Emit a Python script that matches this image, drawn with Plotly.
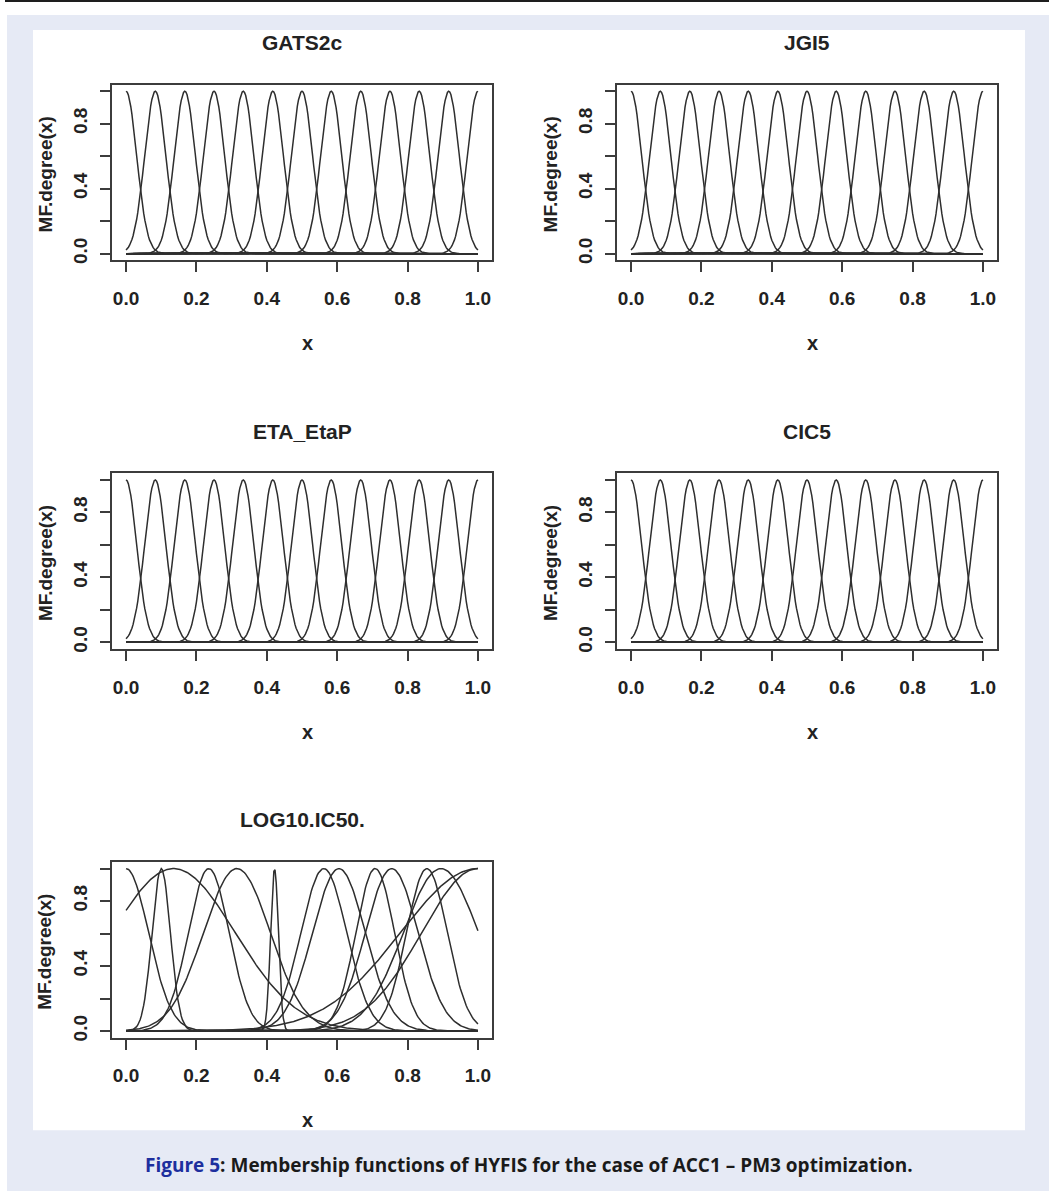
import numpy as np
import plotly.graph_objects as go

W, H = 1049, 1195

# ---------------- data ----------------
panel_titles = ["GATS2c", "JGI5", "ETA_EtaP", "CIC5", "LOG10.IC50."]

# input variables: 13 Gaussian membership functions (centre, width)
in_centers = [0.0, 0.083, 0.167, 0.25, 0.333, 0.417, 0.5, 0.583, 0.667, 0.75, 0.833, 0.917, 1.0]
in_sigmas = [0.030, 0.030, 0.030, 0.030, 0.030, 0.030, 0.030, 0.030, 0.030, 0.030, 0.030, 0.030, 0.030]

# output variable LOG10.IC50.: tuned Gaussian membership functions (centre, width)
out_centers = [0.0, 0.100, 0.135, 0.235, 0.315, 0.422, 0.562, 0.605, 0.708, 0.755, 0.855, 0.895, 1.0, 1.0]
out_sigmas = [0.064, 0.026, 0.175, 0.058, 0.095, 0.011, 0.065, 0.075, 0.055, 0.075, 0.058, 0.107, 0.16, 0.22]

x_tick_vals = [0.0, 0.2, 0.4, 0.6, 0.8, 1.0]
x_tick_text = ["0.0", "0.2", "0.4", "0.6", "0.8", "1.0"]
y_tick_vals = [0.0, 0.2, 0.4, 0.6, 0.8, 1.0]
y_tick_text = ["0.0", "", "0.4", "", "0.8", ""]

x_title = "x"
y_title = "MF.degree(x)"
caption_lead = "Figure 5"
caption_rest = ": Membership functions of HYFIS for the case of ACC1 – PM3 optimization."

# ---------------- styling ----------------
LINE = "#2e2e2e"
AXC = "#3c3c3c"
TXT = "#222222"
FONT = "Liberation Sans, Arial, sans-serif"

col_x = [(112, 492), (617, 997)]
row_y = [(85, 261), (475, 651), (865, 1041)]
positions = [(0, 0), (0, 1), (1, 0), (1, 1), (2, 0)]


def fx(px):
    return px / W


def fy(py):
    return 1 - py / H


xs = np.linspace(0, 1, 301)

fig = go.Figure()
annotations = []

for i, (r, c) in enumerate(positions):
    n = i + 1
    xa = "x" if n == 1 else f"x{n}"
    ya = "y" if n == 1 else f"y{n}"
    if i == 4:
        centers, sigmas = out_centers, out_sigmas
    else:
        centers, sigmas = in_centers, in_sigmas
    for ce, s in zip(centers, sigmas):
        ys = np.exp(-((xs - ce) ** 2) / (2 * s * s))
        fig.add_trace(go.Scatter(x=xs, y=ys, mode="lines",
                                 line=dict(color=LINE, width=1.5),
                                 xaxis=xa, yaxis=ya, showlegend=False,
                                 hoverinfo="skip"))
    x0, x1 = col_x[c]
    y0, y1 = row_y[r]
    xkey = "xaxis" if n == 1 else f"xaxis{n}"
    ykey = "yaxis" if n == 1 else f"yaxis{n}"
    fig.layout[xkey] = dict(
        domain=[fx(x0), fx(x1)], anchor=ya, range=[-0.04, 1.04],
        showgrid=False, zeroline=False, showline=True, mirror=True,
        linecolor=AXC, linewidth=2, ticks="outside", ticklen=10,
        tickwidth=1.5, tickcolor=AXC, tickvals=x_tick_vals, ticktext=x_tick_text,
        tickfont=dict(family=FONT, size=19, color=TXT, weight=700),
        ticklabelstandoff=10, fixedrange=True)
    fig.layout[ykey] = dict(
        domain=[fy(y1), fy(y0)], anchor=xa, range=[-0.04, 1.04],
        showgrid=False, zeroline=False, showline=True, mirror=True,
        linecolor=AXC, linewidth=2, ticks="outside", ticklen=10,
        tickwidth=1.5, tickcolor=AXC, tickvals=y_tick_vals, ticktext=y_tick_text,
        tickangle=-90,
        tickfont=dict(family=FONT, size=19, color=TXT, weight=700),
        ticklabelstandoff=5, fixedrange=True)
    cx = (x0 + x1) / 2
    # panel title
    annotations.append(dict(text=panel_titles[i], xref="paper", yref="paper",
                            x=fx(cx), y=fy(y0 - 42.5), xanchor="center", yanchor="middle",
                            showarrow=False,
                            font=dict(family=FONT, size=21, color=TXT, weight=700)))
    # x axis title
    annotations.append(dict(text=x_title, xref="paper", yref="paper",
                            x=fx(cx + 5), y=fy(y1 + 83), xanchor="center", yanchor="middle",
                            showarrow=False,
                            font=dict(family=FONT, size=20, color=TXT, weight=700)))
    # y axis title
    annotations.append(dict(text=y_title, xref="paper", yref="paper",
                            x=fx(x0 - 67), y=fy((y0 + y1) / 2 + 2), xanchor="center",
                            yanchor="middle", textangle=-90, showarrow=False,
                            font=dict(family=FONT, size=19, color=TXT, weight=700)))

# caption
annotations.append(dict(
    text=f"<span style='color:#1d2f9e'>{caption_lead}</span>{caption_rest}",
    xref="paper", yref="paper", x=fx(529), y=fy(1169), xanchor="center",
    yanchor="middle", showarrow=False,
    font=dict(family="Open Sans, sans-serif", size=19, color="#1a1a1a", weight=700)))

shapes = [
    # light blue frame
    dict(type="rect", xref="paper", yref="paper", x0=fx(7), x1=fx(1049),
         y0=fy(1195), y1=fy(15), fillcolor="#e6eaf5", line=dict(width=0), layer="below"),
    # white image area
    dict(type="rect", xref="paper", yref="paper", x0=fx(33), x1=fx(1025),
         y0=fy(1134), y1=fy(30), fillcolor="#ffffff", line=dict(width=0), layer="below"),
    # top rule
    dict(type="rect", xref="paper", yref="paper", x0=fx(5), x1=fx(1049),
         y0=fy(2), y1=fy(0), fillcolor="#1e1e1e", line=dict(width=0), layer="below"),
]

fig.update_layout(
    width=W, height=H,
    margin=dict(l=0, r=0, t=0, b=0, pad=0),
    paper_bgcolor="#ffffff", plot_bgcolor="rgba(0,0,0,0)",
    annotations=annotations, shapes=shapes, showlegend=False,
)

fig.write_html(
    "out.html",
    config={"displayModeBar": False},
    post_script="document.body.style.margin='0';document.body.style.padding='0';"
                "document.body.style.overflow='hidden';",
)
